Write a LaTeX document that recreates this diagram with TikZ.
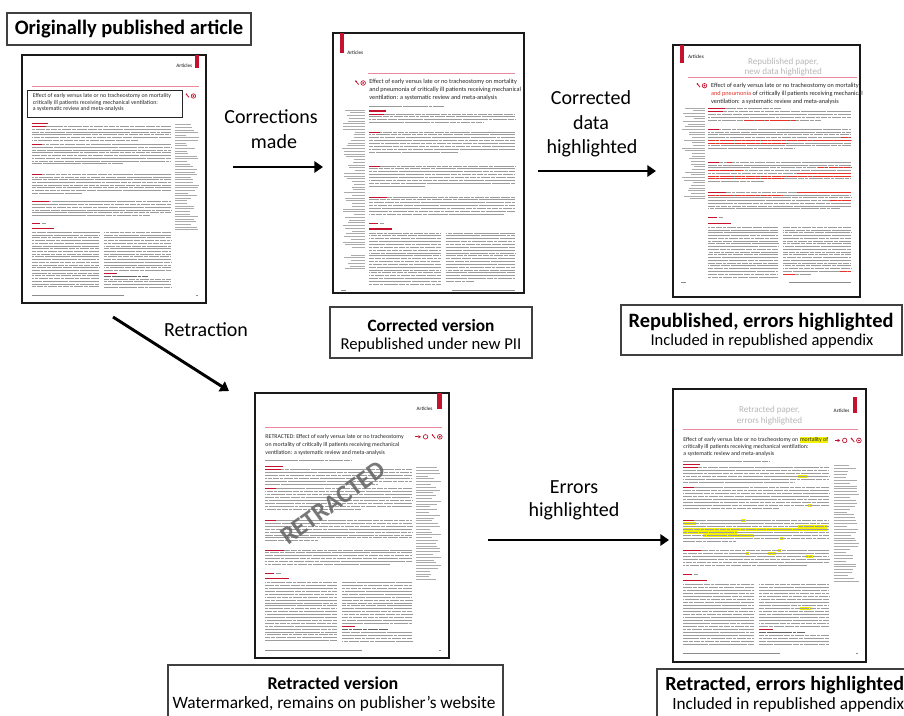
\documentclass[tikz,border=0pt]{standalone}
\usepackage{fontspec}
\setmainfont{Carlito}
\usetikzlibrary{arrows.meta}
\definecolor{lred}{HTML}{C4122F}
\definecolor{lpink}{HTML}{E8899C}
\definecolor{hlred}{HTML}{E5352B}
\definecolor{hlyel}{HTML}{F4F200}
\definecolor{boxgray}{HTML}{404040}
\definecolor{txtg}{HTML}{9C9C9C}
\definecolor{marg}{HTML}{ABABAB}

\tikzset{
 txt/.style={draw=txtg, line width=0.6pt, dash pattern=on 5pt off 0.4pt on 2.5pt off 0.4pt on 7pt off 0.4pt on 3.5pt off 0.4pt},
 redtxt/.style={txt, draw=hlred, line width=0.65pt},
 authl/.style={txt, draw=black!40, line width=0.45pt},
 lead/.style={draw=lred, line width=0.6pt},
 hd/.style={draw=lred, line width=0.8pt},
 ft/.style={draw=black!45, line width=0.4pt},
 mg/.style={draw=marg, line width=0.45pt},
 pageb/.style={draw=black!90, line width=1.1pt, fill=white},
 capbox/.style={draw=boxgray, line width=1pt},
 arr/.style={line width=2.2pt, -{Triangle[length=6.5pt,width=8.5pt]}},
 lbl/.style={font=\fontsize{15}{18}\selectfont, inner sep=0pt},
 ttl/.style={font=\fontsize{4.7}{5.5}\selectfont, text=black!85, inner sep=0pt, anchor=base west},
 ttls/.style={ttl, font=\fontsize{4.4}{5.5}\selectfont},
 art/.style={font=\bfseries\fontsize{3.8}{4}\selectfont, text=black!70, inner sep=0pt},
 ghd/.style={font=\fontsize{6.8}{7}\selectfont, text=black!28, inner sep=0pt},
}

\newcommand\txtpara[6]{%
  \foreach \k in {1,...,#4}{%
    \pgfmathsetmacro\yy{#3+(\k-1)*2.85}%
    \pgfmathsetmacro\ph{mod(\k*4.3+#3*0.7,18.6)}%
    \ifnum\k=#4\relax
      \draw[txt, dash phase=\ph pt] (#1,\yy) -- (#5,\yy);%
    \else
      \draw[txt, dash phase=\ph pt] (#1,\yy) -- (#2,\yy);%
    \fi}%
  \draw[lead] (#1,#3) -- ++(#6,0);%
}
\newcommand\margcol[4]{%
  \foreach \k in {0,...,#4}{%
    \pgfmathsetmacro\yy{#3+\k*2.75}%
    \pgfmathsetmacro\xe{#1+(#2-#1)*(0.45+0.55*rnd)}%
    \draw[mg] (#1,\yy) -- (\xe,\yy);}%
}
\newcommand\margcolr[4]{%
  \foreach \k in {0,...,#4}{%
    \pgfmathsetmacro\yy{#3+\k*2.75}%
    \pgfmathsetmacro\xs{#2-(#2-#1)*(0.45+0.55*rnd)}%
    \draw[mg] (\xs,\yy) -- (#2,\yy);}%
}
\newcommand\iconpair[2]{%
  \draw[lred, line width=0.6pt] (#1-1.5,#2-2) -- (#1+1.5,#2+1.5);
  \fill[lred] (#1-1.2,#2-1.8) circle (0.9);
  \draw[lred, line width=0.5pt] (#1+6,#2) circle (2.3);
  \fill[lred] (#1+6,#2) circle (1.0);
}
\newcommand\iconquad[2]{%
  \draw[lred, line width=0.7pt] (#1,#2) -- (#1+3,#2);
  \fill[lred] (#1+3,#2-1.6) -- (#1+5.5,#2) -- (#1+3,#2+1.6) -- cycle;
  \draw[lred, line width=0.5pt] (#1+10,#2) circle (2.2);
  \iconpair{#1+18}{#2}
}
\newcommand\hlbar[3]{\fill[hlyel] (#1,#3-1.45) rectangle (#2,#3+1.45);}
\newcommand\rl[3]{\draw[redtxt] (#1,#3) -- (#2,#3);}
\newcommand\hly[1]{{\setlength{\fboxsep}{0.3pt}\colorbox{hlyel}{#1}}}

\newcommand\Rbody{%
 \draw[hd] (10,72) -- (27,72);
 \txtpara{10}{154}{75}{6}{120}{15}
 \txtpara{10}{154}{94}{8}{104}{11}
 \txtpara{10}{154}{125}{8}{62}{11}
 \txtpara{10}{154}{154}{6}{132}{18}
 \draw[lead] (10,177) -- (19,177); \draw[txt] (20.5,177) -- (25,177);
 \draw[hd] (10,182) -- (33,182);
 \txtpara{10}{80}{186}{21}{80}{0}
 \txtpara{85}{154}{186}{15}{154}{0}
 \draw[hd] (85,229) -- (98,229);
 \draw[txt, draw=black!60] (85,232) -- (130,232);
 \txtpara{85}{154}{235}{4}{154}{0}
 \draw[ft] (10,252) -- (105,252); \draw[ft] (180,252) -- (182,252);
 \margcol{158}{183}{73}{40}
}
\newcommand\Lbody[1]{%
 \draw[hd] (36,78) -- (53,78);
 \txtpara{36}{181}{81}{4}{150}{15}
 \txtpara{36}{181}{99}{8}{124}{11}
 \txtpara{36}{181}{133}{8}{92}{11}
 \txtpara{36}{181}{164}{7}{170}{18}
 \draw[lead] (36,190) -- (45,190); \draw[txt] (46.5,190) -- (51,190);
 \draw[hd] (36,196) -- (59,196);
 \txtpara{36}{107}{200}{19}{107}{0}
 \txtpara{112}{181}{200}{18}{140}{0}
 \draw[ft] (8,257) -- (13,257); \draw[ft] (118,257) -- (181,257);
 \margcolr{9}{32}{77}{#1}
}

\begin{document}
\begin{tikzpicture}[x=0.75pt,y=-0.75pt]
\pgfmathsetseed{12}
\useasboundingbox[fill=white] (0,0) rectangle (904,716);

% ---------- Page 1: originally published ----------
\begin{scope}[shift={(22,55)}, xscale=0.9684, yscale=0.9538]
 \draw[pageb] (0,0) rectangle (190,260);
 \fill[lred] (179,0) rectangle (183,14);
 \node[art, anchor=base east] (p1art) at (176,13.5) {Articles};
 \draw[lpink, line width=0.7pt] (10,32.5) -- (183,32.5);
 \draw[black!85, line width=0.8pt] (6,37) rectangle (166,66);
 \node[ttls] (p1t1) at (11,44.5) {Effect of early versus late or no tracheostomy on mortality};
 \node[ttls] (p1t2) at (11,51.5) {critically ill patients receiving mechanical ventilation:};
 \node[ttls] (p1t3) at (11,58.5) {a systematic review and meta-analysis};
 \iconpair{171}{43}
 \Rbody
\end{scope}

% ---------- Page 2: corrected version ----------
\begin{scope}[shift={(333,33)}, xscale=1.0053, yscale=1]
 \draw[pageb] (0,0) rectangle (190,260);
 \fill[lred] (7,0) rectangle (11,20);
 \node[art, anchor=base west] (p2art) at (14,22) {Articles};
 \draw[lpink, line width=0.7pt] (35,40) -- (181,40);
 \iconpair{24}{50}
 \node[ttl] (p2t1) at (36,51) {Effect of early versus late or no tracheostomy on mortality};
 \node[ttl] (p2t2) at (36,59) {and pneumonia of critically ill patients receiving mechanical};
 \node[ttl] (p2t3) at (36,67) {ventilation: a systematic review and meta-analysis};
 \draw[authl] (36,73) -- (110,73);
 \Lbody{50}
 \margcolr{9}{32}{222}{5}
\end{scope}

% ---------- Page 3: republished, new data highlighted ----------
\begin{scope}[shift={(673,45)}, xscale=0.9842, yscale=0.9692]
 \draw[pageb] (0,0) rectangle (190,260);
 \fill[lred] (7,0) rectangle (11,19);
 \node[art, anchor=base west] (p3art) at (15,13.5) {Articles};
 \node[ghd] (p3g1) at (112,17.5) {Republished paper,};
 \node[ghd] (p3g2) at (112,27.5) {new data highlighted};
 \draw[lpink, line width=0.7pt] (15,33) -- (187,33);
 \iconpair{26}{42}
 \node[ttl] (p3t1) at (38.5,43.5) {Effect of early versus late or no tracheostomy on mortality};
 \node[ttl] (p3t2) at (38.5,52) {{\color{hlred}and pneumonia} of critically ill patients receiving mechanical};
 \node[ttl] (p3t3) at (38.5,60.5) {ventilation: a systematic review and meta-analysis};
 \draw[authl] (38,65.5) -- (110,65.5);
 \begin{scope}[shift={(0,-12)}]
  \Lbody{34}
  \rl{72}{125}{89.55}
  \rl{171}{181}{107.55}
  \rl{36}{181}{110.4}
  \rl{36}{117}{113.25}
  \rl{55}{60}{133}
  \rl{147}{181}{138.7}
  \rl{36}{70}{141.55}
  \rl{126}{181}{144.4}
  \rl{36}{181}{147.25}
  \rl{36}{113}{150.1}
  \rl{126}{181}{164}
  \rl{36}{112}{166.85}
  \rl{160}{181}{172.55}
  \rl{170}{181}{245.6}
  \rl{112}{124}{248.45}
 \end{scope}
\end{scope}

% ---------- Page 4: retracted version ----------
\begin{scope}[shift={(255,393)}, xscale=1.0211, yscale=1.0192]
 \draw[pageb] (0,0) rectangle (190,260);
 \fill[lred] (178,0) rectangle (183,16);
 \node[art, anchor=base east] (p4art) at (174,17) {Articles};
 \draw[lpink, line width=0.7pt] (10,34) -- (183,34);
 \node[ttls] (p4t1) at (10,44.5) {RETRACTED: Effect of early versus late or no tracheostomy};
 \node[ttls] (p4t2) at (10,52.5) {on mortality of critically ill patients receiving mechanical};
 \node[ttls] (p4t3) at (10,60) {ventilation: a systematic review and meta-analysis};
 \iconquad{157}{43}
 \draw[authl] (10,66) -- (95,66);
 \Rbody
 \node[font=\bfseries\fontsize{19}{19}\selectfont, text=black!62, opacity=0.85, rotate=36, inner sep=0pt] (p4wm) at (76.5,108) {RETRACTED};
\end{scope}

% ---------- Page 5: retracted, errors highlighted ----------
\begin{scope}[shift={(673,389)}, xscale=1.0158, yscale=1.05]
 \draw[pageb] (0,0) rectangle (190,260);
 \fill[lred] (177,8) rectangle (181,23);
 \node[art, anchor=base east] (p5art) at (174,22.5) {Articles};
 \node[ghd] (p5g1) at (95,20) {Retracted paper,};
 \node[ghd] (p5g2) at (95,31) {errors highlighted};
 \draw[lpink, line width=0.7pt] (10,39) -- (182,39);
 \node[ttls] (p5t1) at (10,50) {Effect of early versus late or no tracheostomy on \hly{mortality of}};
 \node[ttls] (p5t2) at (10,56.5) {critically ill patients receiving mechanical ventilation:};
 \node[ttls] (p5t3) at (10,63) {a systematic review and meta-analysis};
 \iconquad{159}{49}
 \draw[authl] (10,68.5) -- (95,68.5);
 \hlbar{123}{132}{83.55}
 \hlbar{133}{137}{111.1}
 \hlbar{67}{72}{125}
 \hlbar{10}{23}{127.85}
 \hlbar{123}{152}{130.7}
 \hlbar{10}{152}{133.55}
 \hlbar{10}{63}{136.4}
 \hlbar{30}{80}{139.25}
 \hlbar{105}{108}{142.1}
 \hlbar{103}{106}{154}
 \hlbar{72}{75}{156.85}
 \hlbar{94}{101}{156.85}
 \hlbar{131}{138}{159.7}
 \hlbar{125}{136}{208.8}
 \Rbody
\end{scope}

% ---------- Captions ----------
\draw[capbox] (7,13) rectangle (251,45);
\node[inner sep=0pt, font=\bfseries\fontsize{15.4}{18}\selectfont] (cap0) at (129,29.5) {Originally published article};

\draw[capbox] (330,307) rectangle (532,358);
\node[inner sep=0pt, font=\bfseries\fontsize{13}{15}\selectfont] (cap2a) at (431,325) {Corrected version};
\node[inner sep=0pt, font=\fontsize{12.5}{15}\selectfont] (cap2b) at (431,345) {Republished under new PII};

\draw[capbox] (621,305) rectangle (902,355);
\node[inner sep=0pt, font=\bfseries\fontsize{15.3}{18}\selectfont] (cap3a) at (761,322) {Republished, errors highlighted};
\node[inner sep=0pt, font=\fontsize{12.4}{15}\selectfont] (cap3b) at (762,341) {Included in republished appendix};

\draw[capbox] (168,665) rectangle (503,730);
\node[inner sep=0pt, font=\bfseries\fontsize{13.5}{16}\selectfont] (cap4a) at (333,683) {Retracted version};
\node[inner sep=0pt, font=\fontsize{13}{15}\selectfont] (cap4b) at (334,704) {Watermarked, remains on publisher’s website};

\draw[capbox] (657,669) rectangle (930,730);
\node[inner sep=0pt, anchor=west, font=\bfseries\fontsize{15.1}{18}\selectfont] (cap5a) at (665,685) {Retracted, errors highlighted};
\node[inner sep=0pt, anchor=west, font=\fontsize{12.9}{15}\selectfont] (cap5b) at (672,705) {Included in republished appendix};

% ---------- Arrows and labels ----------
\coordinate (a1s) at (233,167);
\coordinate (a1e) at (323,167);
\coordinate (a2s) at (538,171);
\coordinate (a2e) at (656,171);
\coordinate (a3s) at (113,317);
\coordinate (a3e) at (229,391);
\coordinate (a4s) at (488,540);
\coordinate (a4e) at (669,540);
\draw[arr] (a1s) -- (a1e);
\draw[arr] (a2s) -- (a2e);
\draw[arr] (a3s) -- (a3e);
\draw[arr] (a4s) -- (a4e);

\node[lbl] (l1a) at (271,117) {Corrections};
\node[lbl] (l1b) at (274,142) {made};
\node[lbl] (l2a) at (591,98) {Corrected};
\node[lbl] (l2b) at (591,123) {data};
\node[lbl] (l2c) at (592,148) {highlighted};
\node[lbl] (l3) at (206,330) {Retraction};
\node[lbl] (l4a) at (574,487) {Errors};
\node[lbl] (l4b) at (574,511) {highlighted};
\end{tikzpicture}
\end{document}
